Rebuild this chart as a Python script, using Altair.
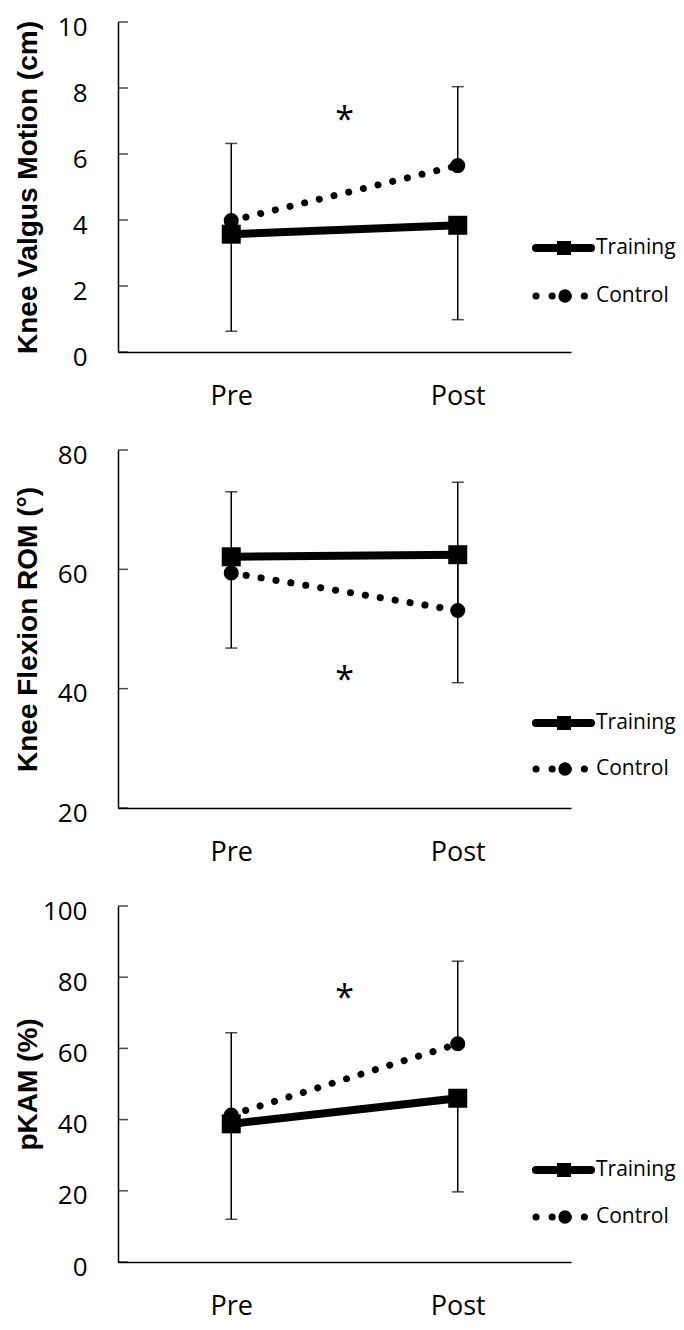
import altair as alt
import pandas as pd

TIMES = ["Pre", "Post"]
SERIES = ["Training", "Control"]

KVM_TITLE = "Knee Valgus Motion (cm)"
KVM_TICKS = [0, 2, 4, 6, 8, 10]
KVM_TRAINING = [3.57, 3.84]
KVM_CONTROL = [3.98, 5.65]
KVM_TRAINING_LOW = [0.63, 0.98]
KVM_CONTROL_HIGH = [6.32, 8.04]
KVM_STAR = 7.31

KFR_TITLE = "Knee Flexion ROM (°)"
KFR_TICKS = [20, 40, 60, 80]
KFR_TRAINING = [62.1, 62.45]
KFR_CONTROL = [59.4, 53.1]
KFR_TRAINING_LOW = [46.8, 41.0]
KFR_CONTROL_HIGH = [73.0, 74.6]
KFR_STAR = 43.05

PKAM_TITLE = "pKAM (%)"
PKAM_TICKS = [0, 20, 40, 60, 80, 100]
PKAM_TRAINING = [38.8, 46.0]
PKAM_CONTROL = [41.3, 61.3]
PKAM_TRAINING_LOW = [12.0, 19.7]
PKAM_CONTROL_HIGH = [64.4, 84.5]
PKAM_STAR = 76.6

TICKFONT = "Open Sans"
TITLEFONT = "Liberation Sans"
W = 453


def panel(title, ticks, training, control, tr_low, ct_high, star, height, leg_y):
    rows = []
    for i, t in enumerate(TIMES):
        rows.append(dict(series=SERIES[0], time=t, idx=i, value=training[i], end=tr_low[i]))
        rows.append(dict(series=SERIES[1], time=t, idx=i, value=control[i], end=ct_high[i]))
    df = pd.DataFrame(rows)

    label_expr = "datum.value == 0 ? '%s' : '%s'" % (TIMES[0], TIMES[1])
    xenc = alt.X(
        "idx:Q",
        scale=alt.Scale(domain=[-0.5, 1.5], nice=False, zero=False),
        axis=alt.Axis(values=[0, 1], labelExpr=label_expr, ticks=False, grid=False,
                      title=None, labelFont=TICKFONT, labelFontSize=27, labelPadding=31,
                      labelColor="black", domainColor="black", domainWidth=1.5),
    )
    yscale = alt.Scale(domain=[ticks[0], ticks[-1]], nice=False, zero=False)
    yaxis = alt.Axis(values=ticks, ticks=False, grid=False, title=title,
                     titleFont=TITLEFONT, titleFontSize=28, titleFontWeight="bold",
                     titleColor="black", titleX=-76, titleLimit=600,
                     labelFont=TICKFONT, labelFontSize=26, labelPadding=31, labelOffset=5,
                     labelColor="black", domainColor="black", domainWidth=1.5)

    def Y(field):
        return alt.Y(field, type="quantitative", scale=yscale, axis=yaxis)

    base = alt.Chart(df)
    tr = base.transform_filter(alt.datum.series == SERIES[0])
    ct = base.transform_filter(alt.datum.series == SERIES[1])

    tick_layer = alt.Chart(pd.DataFrame({"value": ticks})).mark_tick(
        orient="horizontal", size=10, thickness=1.5, color="black"
    ).encode(x=alt.value(5), y=Y("value"))

    err_rule = base.mark_rule(color="black", strokeWidth=1.5).encode(
        x=xenc, y=Y("value"), y2="end:Q")
    err_cap = base.mark_tick(orient="horizontal", size=12, thickness=1.5, color="black").encode(
        x=xenc, y=Y("end"))

    line_tr = tr.mark_line(color="black", strokeWidth=8).encode(x=xenc, y=Y("value"))
    line_ct = ct.mark_line(color="black", strokeWidth=7, strokeDash=[0.1, 15],
                           strokeCap="round").encode(x=xenc, y=Y("value"))
    pts_ct = ct.mark_point(shape="circle", filled=True, size=227, color="black",
                           opacity=1).encode(x=xenc, y=Y("value"))
    pts_tr = tr.mark_point(shape="square", filled=True, size=361, color="black",
                           opacity=1).encode(x=xenc, y=Y("value"))

    star_df = pd.DataFrame({"idx": [0.5], "value": [star], "txt": ["*"]})
    star_layer = alt.Chart(star_df).mark_text(
        font=TICKFONT, fontSize=34, baseline="alphabetic", dy=0.59 * 34, color="black"
    ).encode(x=xenc, y=Y("value"), text="txt:N")

    leg = alt.Chart(pd.DataFrame({"label": SERIES}))
    leg_tr = leg.transform_filter(alt.datum.label == SERIES[0])
    leg_ct = leg.transform_filter(alt.datum.label == SERIES[1])
    y0, y1 = leg_y
    legend_layers = [
        leg_tr.mark_rule(color="black", strokeWidth=8, strokeCap="round").encode(
            x=alt.value(418), x2=alt.value(473), y=alt.value(y0)),
        leg_tr.mark_point(shape="square", filled=True, size=196, color="black", opacity=1).encode(
            x=alt.value(446), y=alt.value(y0)),
        leg_tr.mark_text(font=TICKFONT, fontSize=21, align="left", baseline="middle",
                         color="black").encode(x=alt.value(478), y=alt.value(y0), text="label:N"),
        leg_ct.mark_rule(color="black", strokeWidth=7, strokeDash=[0.1, 16],
                         strokeCap="round").encode(
            x=alt.value(418), x2=alt.value(470), y=alt.value(y1)),
        leg_ct.mark_point(shape="circle", filled=True, size=177, color="black", opacity=1).encode(
            x=alt.value(447), y=alt.value(y1)),
        leg_ct.mark_text(font=TICKFONT, fontSize=21, align="left", baseline="middle",
                         color="black").encode(x=alt.value(478), y=alt.value(y1), text="label:N"),
    ]

    return alt.layer(tick_layer, err_rule, err_cap, line_tr, line_ct, pts_ct, pts_tr,
                     star_layer, *legend_layers).properties(width=W, height=height)


p1 = panel(KVM_TITLE, KVM_TICKS, KVM_TRAINING, KVM_CONTROL, KVM_TRAINING_LOW,
           KVM_CONTROL_HIGH, KVM_STAR, 330, (226, 274))
p2 = panel(KFR_TITLE, KFR_TICKS, KFR_TRAINING, KFR_CONTROL, KFR_TRAINING_LOW,
           KFR_CONTROL_HIGH, KFR_STAR, 358, (273, 319))
p3 = panel(PKAM_TITLE, PKAM_TICKS, PKAM_TRAINING, PKAM_CONTROL, PKAM_TRAINING_LOW,
           PKAM_CONTROL_HIGH, PKAM_STAR, 356, (264, 311))

chart = alt.vconcat(p1, p2, p3, spacing=33).configure_view(stroke=None).properties(
    padding={"left": 5, "top": 6, "right": 0, "bottom": 5}
)

chart.save("out.html", embed_options={"renderer": "svg", "actions": False})
